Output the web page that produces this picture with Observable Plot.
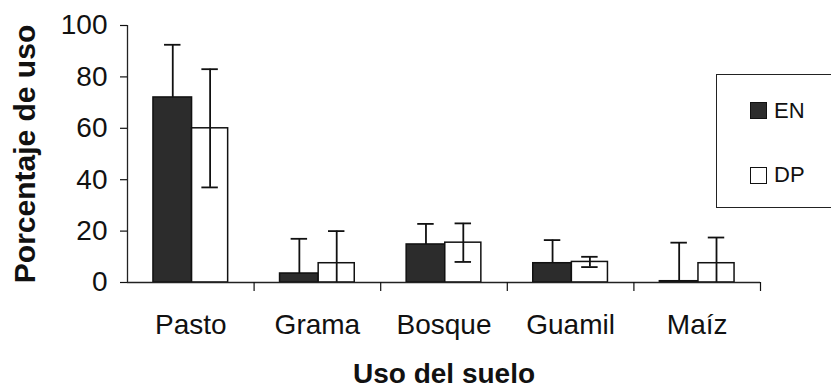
<!DOCTYPE html>
<html>
<head>
<meta charset="utf-8">
<script src="https://cdn.jsdelivr.net/npm/d3@7"></script>
<script src="https://cdn.jsdelivr.net/npm/@observablehq/plot@0.6"></script>
<style>
  html, body { margin: 0; padding: 0; background: #fff; overflow: hidden; }
  #wrap { position: relative; width: 831px; height: 389px; }
  #legend { position: absolute; left: 716px; top: 74px; width: 140px; height: 134px;
            border: 1px solid #222; box-sizing: border-box; font-family: "Liberation Sans", Arial, sans-serif; }
  .sw { position: absolute; left: 33px; width: 17px; height: 17px; box-sizing: border-box; border: 1.5px solid #111; }
  .lt { position: absolute; left: 57px; font-size: 22px; line-height: 22px; color: #111; }
</style>
</head>
<body>
<div id="wrap"></div>
<script>
// ---- data ----
const categories = ["Pasto", "Grama", "Bosque", "Guamil", "Maíz"];
const seriesNames = ["EN", "DP"];
const enValues = [72, 3.5, 14.8, 7.5, 0.5];
const enErrors = [20.5, 13.5, 8, 9, 15];
const dpValues = [60, 7.5, 15.5, 8, 7.5];
const dpErrors = [23, 12.5, 7.5, 2, 10];
const yTicks = [0, 20, 40, 60, 80, 100];

// ---- layout / style (band fractions within each category slot) ----
const slot = {EN: {x1: 0.205, x2: 0.51}, DP: {x1: 0.51, x2: 0.795}};
const fills = {EN: "#2c2c2c", DP: "#fff"};
const capHalf = 0.065;

const rows = categories.flatMap((c, i) => [
  {i, cat: c, series: "EN", value: enValues[i], err: enErrors[i]},
  {i, cat: c, series: "DP", value: dpValues[i], err: dpErrors[i]}
]).map(d => {
  const s = slot[d.series];
  const lo = d.value - d.err;
  // the lower half of the EN bars' error bars is hidden inside the dark bars
  const showLo = d.series === "DP";
  return {...d, x1: d.i + s.x1, x2: d.i + s.x2, xm: d.i + (s.x1 + s.x2) / 2,
          hi: d.value + d.err, lo: showLo ? Math.max(0, lo) : d.value, hasLo: showLo && lo > 0};
});

const font = "Liberation Sans, Arial, sans-serif";

const chart = Plot.plot({
  width: 831,
  height: 389,
  marginLeft: 127,
  marginRight: 71,
  marginTop: 25,
  marginBottom: 107,
  style: {fontFamily: font, color: "#111", background: "#fff"},
  x: {domain: [0, categories.length], label: null},
  y: {domain: [0, 100], label: null},
  marks: [
    // bars
    Plot.rect(rows, {x1: "x1", x2: "x2", y1: 0, y2: "value",
      fill: d => fills[d.series], stroke: "#111", strokeWidth: 1.5}),
    // error stems
    Plot.ruleX(rows, {x: "xm", y1: "lo", y2: "hi", stroke: "#111", strokeWidth: 1.8}),
    // upper caps
    Plot.ruleY(rows, {y: "hi", x1: d => d.xm - capHalf, x2: d => d.xm + capHalf, stroke: "#111", strokeWidth: 1.8}),
    // lower caps
    Plot.ruleY(rows.filter(d => d.hasLo), {y: "lo", x1: d => d.xm - capHalf, x2: d => d.xm + capHalf, stroke: "#111", strokeWidth: 1.8}),
    // axis lines
    Plot.ruleX([0], {stroke: "#222", strokeWidth: 1.3}),
    Plot.ruleY([0], {stroke: "#222", strokeWidth: 1.3}),
    // y axis
    Plot.axisY({ticks: yTicks, tickSize: 7, tickPadding: 13, fontSize: 28, strokeWidth: 1.2, tickFormat: d => String(d)}),
    // x axis ticks at slot boundaries
    Plot.axisX({ticks: categories.map((c, i) => i + 1), tickSize: 9, tickFormat: () => "", strokeWidth: 1.2}),
    // x axis category labels
    Plot.axisX({ticks: categories.map((c, i) => i + 0.5), tickSize: 0, tickPadding: 32, fontSize: 28,
      tickFormat: v => categories[Math.round(v - 0.5)]}),
    // axis titles
    Plot.text(["Uso del suelo"], {frameAnchor: "bottom", dy: 81, lineAnchor: "top",
      fontSize: 28, fontWeight: "bold", fill: "#111"}),
    Plot.text(["Porcentaje de uso"], {frameAnchor: "left", dx: -102, rotate: -90,
      lineAnchor: "middle", textAnchor: "middle", fontSize: 30, fontWeight: "bold", fill: "#111"})
  ]
});

const wrap = document.getElementById("wrap");
wrap.appendChild(chart);

// legend
const legend = document.createElement("div");
legend.id = "legend";
const tops = {EN: {sw: 27, t: 25}, DP: {sw: 92, t: 89}};
seriesNames.forEach(name => {
  const sw = document.createElement("div");
  sw.className = "sw";
  sw.style.top = tops[name].sw + "px";
  sw.style.background = fills[name];
  legend.appendChild(sw);
  const t = document.createElement("div");
  t.className = "lt";
  t.style.top = tops[name].t + "px";
  t.textContent = name;
  legend.appendChild(t);
});
wrap.appendChild(legend);
</script>
</body>
</html>
